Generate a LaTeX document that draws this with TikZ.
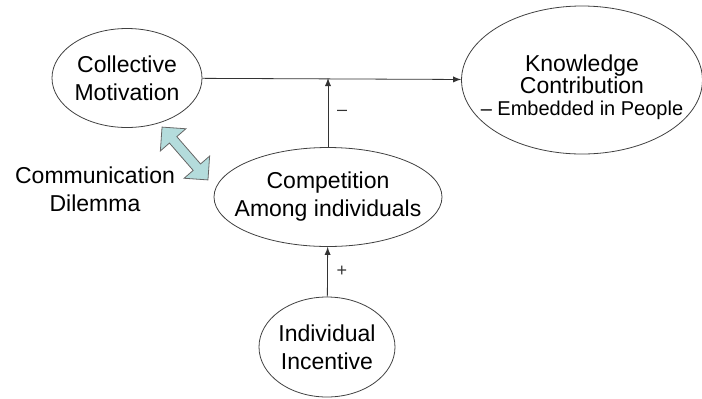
\documentclass[tikz,border=0pt]{standalone}
\usepackage{fontspec}
\setmainfont{Liberation Sans}
\usetikzlibrary{arrows,shapes,shapes.arrows,positioning}
\definecolor{dilemmablue}{RGB}{180,220,220}
\tikzstyle{bubble}=[ellipse,draw=black!75,thin,align=center,inner sep=-8pt,font=\fontsize{11.5}{14}\selectfont]
\tikzstyle{plain}=[align=center,font=\fontsize{11.5}{14}\selectfont]
\tikzstyle{edge} = [draw,thin,black!80,-latex]
\tikzstyle{sign} = [font=\small,right,xshift=1pt]
\tikzstyle{twoway}=[double arrow,draw=black!60,fill=dilemmablue,inner sep=2.25pt,minimum height=35pt,double arrow head extend=6pt]

\begin{document}
\begin{tikzpicture}[x=0.5pt,y=0.5pt]
    \useasboundingbox (0,0) rectangle (702,-398);
    % First the four bubbles: position/name/width/height/text
    \foreach \pos/\name/\w/\h/\txt in {{(127,-78)/Collective/75pt/49.5pt/Collective\\Motivation},
        {(582,-80)/Knowledge/119pt/74pt/\mbox{}\\[1.5pt]Knowledge\\[-3pt]Contribution\\[-3pt]{\fontsize{10}{11}\selectfont -- Embedded in People}},
        {(328,-197)/Competition/114pt/49.5pt/Competition\\Among individuals},
        {(327,-347)/Incentive/68pt/50pt/Individual\\Incentive}}
        \node[bubble,minimum width=\w,minimum height=\h] (\name) at \pos {\txt};

    \node[plain] (Dilemma) at (95,-189) {Communication\\Dilemma};
    % two-headed arrow between Collective and Competition
    \node[twoway,rotate=-49] (Talk) at (185,-153.5) {};

    % Then the arrows with their signs
    \coordinate (join) at (Competition.north |- Collective.east);
    \foreach \source/\dest/\sign in {Collective/Knowledge/{}, Competition.north/join/{--}, Incentive/Competition/+}
        \path[edge] (\source) -- node[sign] {\sign} (\dest);
\end{tikzpicture}
\end{document}
